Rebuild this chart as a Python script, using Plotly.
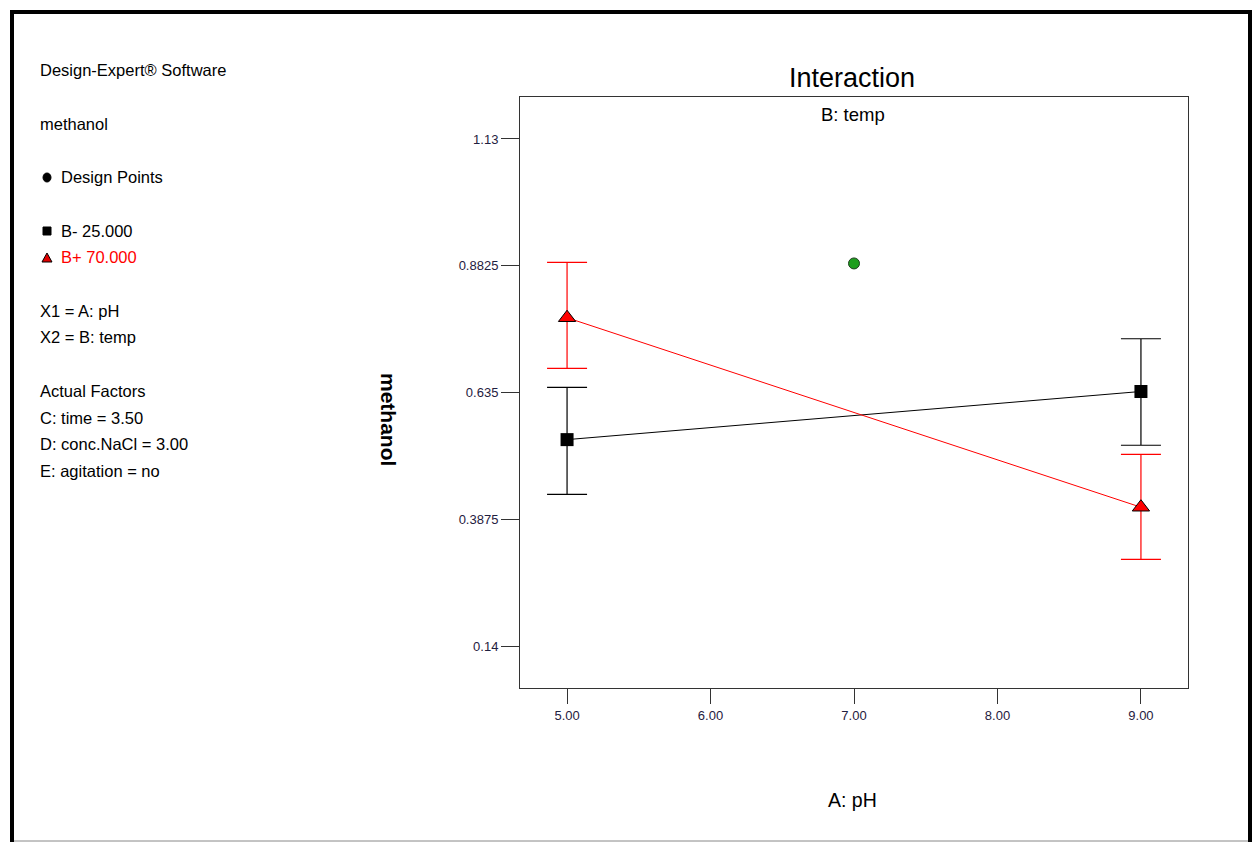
import plotly.graph_objects as go

# ---- data ----
ph_levels = [5.0, 9.0]
b_minus_mean = [0.543, 0.637]
b_minus_upper = [0.645, 0.740]
b_minus_lower = [0.436, 0.532]
b_plus_mean = [0.781, 0.411]
b_plus_upper = [0.889, 0.514]
b_plus_lower = [0.682, 0.309]
design_x = [7.0]
design_y = [0.887]
x_ticks = [5.0, 6.0, 7.0, 8.0, 9.0]
x_tick_labels = ["5.00", "6.00", "7.00", "8.00", "9.00"]
y_ticks = [0.14, 0.3875, 0.635, 0.8825, 1.13]
y_tick_labels = ["0.14", "0.3875", "0.635", "0.8825", "1.13"]

W, H = 1255, 842
L, R, T, B = 520, 1188, 97, 688
FONT = "Liberation Sans Narrow, Arial Narrow, Liberation Sans, Arial, sans-serif"
TICKCOL = "#1f2040"


def px(x):
    return (x - L) / (R - L)


def py(y):
    return (B - y) / (B - T)


fig = go.Figure()

fig.add_trace(go.Scatter(
    x=ph_levels, y=b_minus_mean, mode="lines+markers",
    line=dict(color="black", width=1),
    marker=dict(symbol="square", size=13, color="black"),
    error_y=dict(type="data", symmetric=False,
                 array=[u - m for u, m in zip(b_minus_upper, b_minus_mean)],
                 arrayminus=[m - l for l, m in zip(b_minus_lower, b_minus_mean)],
                 color="black", thickness=1.2, width=20),
    showlegend=False, name="B- 25.000"))

fig.add_trace(go.Scatter(
    x=ph_levels, y=b_plus_mean, mode="lines+markers",
    line=dict(color="red", width=1),
    marker=dict(symbol="triangle-up", size=15, color="red",
                line=dict(color="black", width=1)),
    error_y=dict(type="data", symmetric=False,
                 array=[u - m for u, m in zip(b_plus_upper, b_plus_mean)],
                 arrayminus=[m - l for l, m in zip(b_plus_lower, b_plus_mean)],
                 color="red", thickness=1.2, width=20),
    showlegend=False, name="B+ 70.000"))

fig.add_trace(go.Scatter(
    x=design_x, y=design_y, mode="markers",
    marker=dict(symbol="circle", size=11, color="#1e9e1e",
                line=dict(color="#204020", width=1)),
    showlegend=False, name="Design Points"))

annotations = []


def txt(x, y, s, size=16.5, color="black", xanchor="left", bold=False, angle=0):
    annotations.append(dict(
        x=px(x), y=py(y), xref="paper", yref="paper", text=("<b>%s</b>" % s) if bold else s,
        showarrow=False, xanchor=xanchor, yanchor="middle", textangle=angle,
        font=dict(family=FONT, size=size, color=color)))


txt(38, 70, "Design-Expert® Software")
txt(38, 124, "methanol")
txt(59, 177, "Design Points")
txt(59, 231, "B- 25.000")
txt(59, 257, "B+ 70.000", color="red")
txt(38, 311, "X1 = A: pH")
txt(38, 337, "X2 = B: temp")
txt(38, 391, "Actual Factors")
txt(38, 418, "C: time = 3.50")
txt(38, 444, "D: conc.NaCl = 3.00")
txt(38, 471, "E: agitation = no")
txt(852, 78, "Interaction", size=27, xanchor="center")
txt(853, 115, "B: temp", size=18.5, xanchor="center")
txt(852, 800, "A: pH", size=19.5, xanchor="center")
txt(388, 419, "methanol", size=21, xanchor="center", bold=True, angle=90)

shapes = [
    # legend glyphs
    dict(type="circle", xref="paper", yref="paper", x0=px(43), x1=px(51), y0=py(173), y1=py(182),
         fillcolor="black", line=dict(color="black", width=1)),
    dict(type="rect", xref="paper", yref="paper", x0=px(43), x1=px(51), y0=py(227), y1=py(235),
         fillcolor="black", line=dict(color="black", width=1)),
    dict(type="path", xref="paper", yref="paper",
         path="M %f %f L %f %f L %f %f Z" % (px(42), py(262), px(52), py(262), px(47), py(253)),
         fillcolor="#e00000", line=dict(color="black", width=1)),
    # outer frame
    dict(type="line", xref="paper", yref="paper", x0=px(12), x1=px(12), y0=py(11), y1=py(842),
         line=dict(color="black", width=4)),
    dict(type="line", xref="paper", yref="paper", x0=px(10), x1=px(1252), y0=py(12), y1=py(12),
         line=dict(color="black", width=4)),
    dict(type="line", xref="paper", yref="paper", x0=px(1250), x1=px(1250), y0=py(11), y1=py(842),
         line=dict(color="black", width=4)),
    dict(type="line", xref="paper", yref="paper", x0=px(14), x1=px(1248), y0=py(841), y1=py(841),
         line=dict(color="#888888", width=1)),
]

fig.update_layout(
    width=W, height=H,
    margin=dict(l=L, r=W - R, t=T, b=H - B, pad=0),
    paper_bgcolor="white", plot_bgcolor="white",
    annotations=annotations, shapes=shapes,
    xaxis=dict(range=[4.672, 9.328], tickvals=x_ticks, ticktext=x_tick_labels,
               ticks="outside", ticklen=15, tickcolor="#333", tickwidth=1,
               showline=True, linecolor="#333", linewidth=1, mirror=True,
               showgrid=False, zeroline=False,
               tickfont=dict(family=FONT, size=13, color=TICKCOL)),
    yaxis=dict(range=[0.058, 1.212], tickvals=y_ticks, ticktext=y_tick_labels,
               ticks="outside", ticklen=18, tickcolor="#333", tickwidth=1,
               showline=True, linecolor="#333", linewidth=1, mirror=True,
               showgrid=False, zeroline=False,
               tickfont=dict(family=FONT, size=13, color=TICKCOL)),
)

fig.write_html("out.html", config={"displayModeBar": False},
               post_script="document.body.style.margin='0';document.body.style.overflow='hidden';")
